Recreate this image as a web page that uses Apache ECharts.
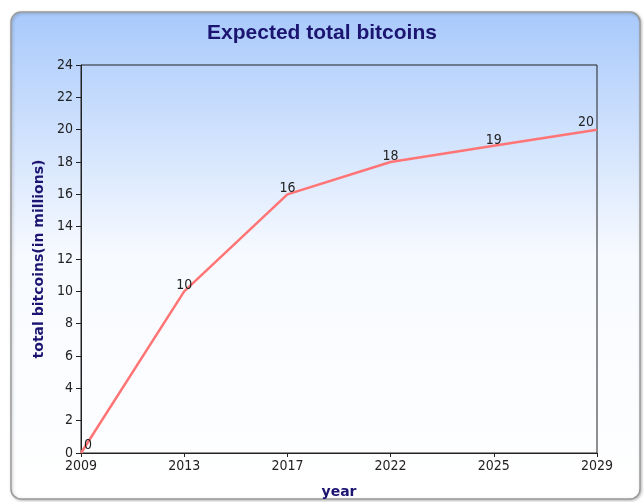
<!DOCTYPE html>
<html><head><meta charset="utf-8">
<script src="https://cdn.jsdelivr.net/npm/echarts@6/dist/echarts.min.js"></script>
<style>html,body{margin:0;padding:0;background:#fff}#c{width:644px;height:502px}</style>
</head><body><div id="c"></div>
<script>
const years = ['2009','2013','2017','2022','2025','2029'];
const bitcoins = [0, 10, 16, 18, 19, 20];
const yTicks = {min: 0, max: 24, interval: 2};

const chart = echarts.init(document.getElementById('c'));
const n = bitcoins.length;
const data = bitcoins.map((v, i) => {
  let off = [0, 4];
  if (i === 0) off = [7, 2];
  if (i === n - 1) off = [-11, 2];
  return {value: v, label: {offset: off}};
});
const tickFont = 'DejaVu Sans Condensed, DejaVu Sans';
chart.setOption({
  animation: false,
  backgroundColor: '#fff',
  graphic: [{
    type: 'rect', z: -10, silent: true,
    shape: {x: 11, y: 12, width: 629, height: 487, r: 10},
    style: {
      fill: {type: 'linear', x: 0, y: 0, x2: 0, y2: 1, colorStops: [
        {offset: 0, color: '#a8c9fb'}, {offset: 0.5, color: '#f7faff'}, {offset: 1, color: '#ffffff'}]},
      stroke: '#9a9a9a', lineWidth: 1.5,
      shadowColor: 'rgba(0,0,0,0.25)', shadowBlur: 3, shadowOffsetX: 1, shadowOffsetY: 1
    }
  }],
  title: {
    text: 'Expected total bitcoins', left: 'center', top: 18,
    textStyle: {fontFamily: 'Liberation Sans', fontSize: 21, fontWeight: 'bold', color: '#1b1470'}
  },
  grid: {left: 81, right: 47, top: 65, bottom: 49, outerBoundsMode: 'none', containLabel: false,
    show: true, borderColor: '#222', borderWidth: 1, backgroundColor: 'transparent'},
  xAxis: {
    type: 'category', data: years, boundaryGap: false,
    name: 'year', nameLocation: 'middle', nameGap: 32,
    nameTextStyle: {fontFamily: 'DejaVu Sans', fontSize: 14, fontWeight: 'bold', color: '#1b1470'},
    axisLine: {lineStyle: {color: '#222', width: 1}},
    axisTick: {show: true, length: 4, alignWithLabel: true, lineStyle: {color: '#222'}},
    axisLabel: {fontFamily: tickFont, fontSize: 14, color: '#222', margin: 6, showMaxLabel: true, showMinLabel: true},
    splitLine: {show: false}
  },
  yAxis: {
    type: 'value', min: yTicks.min, max: yTicks.max, interval: yTicks.interval,
    name: 'total bitcoins(in millions)', nameLocation: 'middle', nameGap: 33,
    nameTextStyle: {fontFamily: 'DejaVu Sans', fontSize: 14, fontWeight: 'bold', color: '#1b1470'},
    axisLine: {show: true, lineStyle: {color: '#222', width: 1}},
    axisTick: {show: true, length: 5, lineStyle: {color: '#222'}},
    axisLabel: {fontFamily: tickFont, fontSize: 14, color: '#222', margin: 8},
    splitLine: {show: false}
  },
  series: [{
    type: 'line', data: data, symbol: 'circle', symbolSize: 1, showSymbol: true,
    lineStyle: {color: '#ff7474', width: 2.5},
    itemStyle: {color: 'rgba(255,116,116,0)', borderWidth: 0},
    label: {show: true, position: 'top', distance: 2, fontFamily: tickFont, fontSize: 14, color: '#222'}
  }]
});
</script></body></html>
